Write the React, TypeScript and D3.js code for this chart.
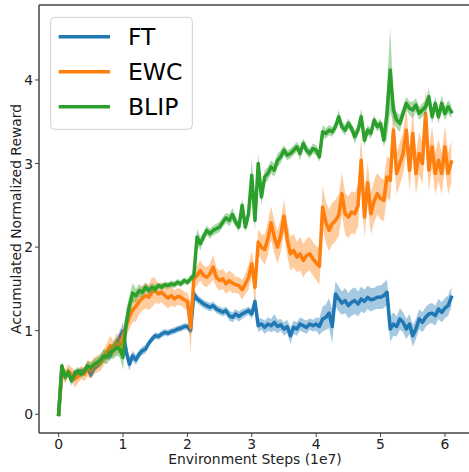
import React from 'react';
import * as d3 from 'd3';

// environment steps (1e7), sampled every 0.05
const steps = [
  0, 0.05, 0.1, 0.15, 0.2, 0.25, 0.3, 0.35, 0.4, 0.45,
  0.5, 0.55, 0.6, 0.65, 0.7, 0.75, 0.8, 0.85, 0.9, 0.95,
  1, 1.05, 1.1, 1.15, 1.2, 1.25, 1.3, 1.35, 1.4, 1.45,
  1.5, 1.55, 1.6, 1.65, 1.7, 1.75, 1.8, 1.85, 1.9, 1.95,
  2, 2.05, 2.1, 2.15, 2.2, 2.25, 2.3, 2.35, 2.4, 2.45,
  2.5, 2.55, 2.6, 2.65, 2.7, 2.75, 2.8, 2.85, 2.9, 2.95,
  3, 3.05, 3.1, 3.15, 3.2, 3.25, 3.3, 3.35, 3.4, 3.45,
  3.5, 3.55, 3.6, 3.65, 3.7, 3.75, 3.8, 3.85, 3.9, 3.95,
  4, 4.05, 4.1, 4.15, 4.2, 4.25, 4.3, 4.35, 4.4, 4.45,
  4.5, 4.55, 4.6, 4.65, 4.7, 4.75, 4.8, 4.85, 4.9, 4.95,
  5, 5.05, 5.1, 5.15, 5.2, 5.25, 5.3, 5.35, 5.4, 5.45,
  5.5, 5.55, 5.6, 5.65, 5.7, 5.75, 5.8, 5.85, 5.9, 5.95,
  6, 6.05, 6.1,
];

const ftMean = [
  0, 0.55, 0.45, 0.5, 0.42, 0.5, 0.48, 0.52, 0.5, 0.55,
  0.47, 0.55, 0.58, 0.62, 0.68, 0.72, 0.7, 0.8, 0.86, 0.92,
  1.0, 0.75, 0.6, 0.7, 0.65, 0.72, 0.76, 0.78, 0.85, 0.9,
  0.94, 0.93, 0.96, 0.98, 0.97, 0.99, 1.0, 1.02, 1.03, 1.05,
  1.05, 1.0, 1.44, 1.38, 1.35, 1.32, 1.3, 1.28, 1.3, 1.26,
  1.24, 1.22, 1.24, 1.18, 1.16, 1.2, 1.17, 1.2, 1.22, 1.24,
  1.2, 1.35, 1.06, 1.08, 1.04, 1.08, 1.06, 1.1, 1.05, 1.07,
  1.02, 1.05, 0.94, 1.04, 1.02, 1.08, 1.06, 1.04, 1.08, 1.06,
  1.08, 1.05, 1.14, 1.16, 1.21, 1.05, 1.44, 1.38, 1.33, 1.36,
  1.3, 1.34, 1.36, 1.32, 1.38, 1.35, 1.4, 1.37, 1.38, 1.4,
  1.4, 1.42, 1.46, 1.02, 1.08, 1.05, 1.14, 1.1, 1.02, 1.08,
  0.94, 1.02, 1.14, 1.1, 1.16, 1.2, 1.21, 1.18, 1.26, 1.22,
  1.27, 1.3, 1.4,
];
const ftSpread = [
  0, 0.04, 0.05, 0.04, 0.04, 0.04, 0.04, 0.04, 0.04, 0.05,
  0.05, 0.05, 0.04, 0.05, 0.05, 0.05, 0.06, 0.06, 0.06, 0.08,
  0.1, 0.1, 0.08, 0.06, 0.06, 0.05, 0.05, 0.05, 0.04, 0.04,
  0.04, 0.04, 0.04, 0.04, 0.04, 0.04, 0.04, 0.04, 0.04, 0.04,
  0.04, 0.06, 0.06, 0.05, 0.05, 0.05, 0.05, 0.05, 0.05, 0.05,
  0.05, 0.05, 0.05, 0.06, 0.06, 0.06, 0.06, 0.06, 0.05, 0.05,
  0.06, 0.08, 0.08, 0.07, 0.08, 0.08, 0.08, 0.1, 0.08, 0.07,
  0.08, 0.08, 0.1, 0.08, 0.08, 0.08, 0.08, 0.08, 0.07, 0.07,
  0.08, 0.1, 0.15, 0.15, 0.18, 0.2, 0.15, 0.15, 0.14, 0.15,
  0.15, 0.16, 0.16, 0.15, 0.15, 0.14, 0.14, 0.14, 0.13, 0.14,
  0.14, 0.15, 0.15, 0.15, 0.14, 0.12, 0.13, 0.12, 0.12, 0.12,
  0.13, 0.12, 0.12, 0.12, 0.12, 0.12, 0.12, 0.12, 0.12, 0.12,
  0.12, 0.12, 0.12,
];

const ewcMean = [
  0, 0.5, 0.45, 0.52, 0.48, 0.42, 0.45, 0.5, 0.48, 0.55,
  0.53, 0.58, 0.6, 0.62, 0.68, 0.75, 0.82, 0.78, 0.85, 0.82,
  0.92, 1.05, 1.17, 1.25, 1.29, 1.35, 1.39, 1.42, 1.4, 1.46,
  1.48, 1.44, 1.46, 1.42, 1.39, 1.42, 1.38, 1.41, 1.4, 1.37,
  1.35, 1.04, 1.62, 1.66, 1.72, 1.66, 1.64, 1.68, 1.76, 1.64,
  1.6, 1.62, 1.56, 1.6, 1.57, 1.55, 1.54, 1.49, 1.56, 1.64,
  1.8, 1.52, 2.06, 2.0, 1.97, 2.1, 2.29, 2.12, 2.0, 2.14,
  2.37, 2.1, 1.92, 1.96, 1.88, 1.92, 1.84, 1.9, 1.92, 1.86,
  1.81, 1.77, 2.48, 2.3, 2.2, 2.28, 2.32, 2.38, 2.64, 2.4,
  2.36, 2.42, 2.4, 2.5, 3.04, 2.36, 2.77, 2.4, 2.55, 2.64,
  2.58, 2.56, 2.84, 2.8, 3.4, 2.88, 3.0, 3.12, 3.4, 2.92,
  3.36, 2.88, 3.12, 3.0, 3.6, 2.92, 3.2, 2.88, 3.04, 2.88,
  3.2, 2.88, 3.02,
];
const ewcSpread = [
  0, 0.06, 0.08, 0.08, 0.08, 0.1, 0.08, 0.08, 0.08, 0.1,
  0.1, 0.1, 0.1, 0.1, 0.1, 0.1, 0.12, 0.1, 0.12, 0.1,
  0.12, 0.12, 0.15, 0.15, 0.18, 0.15, 0.15, 0.15, 0.15, 0.18,
  0.15, 0.12, 0.12, 0.12, 0.12, 0.12, 0.1, 0.1, 0.1, 0.1,
  0.1, 0.3, 0.12, 0.12, 0.12, 0.12, 0.12, 0.12, 0.15, 0.12,
  0.12, 0.12, 0.12, 0.12, 0.12, 0.1, 0.1, 0.12, 0.12, 0.15,
  0.15, 0.2, 0.15, 0.15, 0.18, 0.2, 0.2, 0.2, 0.2, 0.2,
  0.2, 0.2, 0.2, 0.2, 0.18, 0.2, 0.2, 0.2, 0.2, 0.2,
  0.2, 0.22, 0.25, 0.25, 0.25, 0.25, 0.25, 0.25, 0.25, 0.25,
  0.25, 0.25, 0.25, 0.25, 0.3, 0.25, 0.25, 0.25, 0.25, 0.25,
  0.25, 0.25, 0.25, 0.25, 0.3, 0.25, 0.25, 0.25, 0.28, 0.25,
  0.28, 0.25, 0.25, 0.25, 0.3, 0.25, 0.25, 0.25, 0.25, 0.25,
  0.25, 0.25, 0.25,
];

const blipMean = [
  0, 0.58, 0.45, 0.5, 0.4, 0.48, 0.52, 0.48, 0.52, 0.58,
  0.56, 0.6, 0.62, 0.65, 0.7, 0.68, 0.74, 0.76, 0.8, 0.78,
  0.68, 1.1, 1.3, 1.45, 1.42, 1.48, 1.46, 1.52, 1.48, 1.52,
  1.5, 1.54, 1.52, 1.55, 1.54, 1.56, 1.55, 1.58, 1.56, 1.6,
  1.58, 1.62, 1.66, 2.12, 2.04, 2.12, 2.2, 2.16, 2.2, 2.22,
  2.24, 2.3, 2.35, 2.32, 2.39, 2.3, 2.24, 2.5, 2.24, 2.4,
  2.86, 2.32, 3.0, 2.6, 2.84, 2.88, 2.96, 2.92, 3.04, 3.08,
  3.16, 3.1, 3.12, 3.16, 3.2, 3.12, 3.24, 3.16, 3.12, 3.18,
  3.16, 3.08, 3.38, 3.36, 3.4, 3.38, 3.44, 3.56, 3.44, 3.4,
  3.48, 3.42, 3.32, 3.4, 3.56, 3.28, 3.4, 3.36, 3.52, 3.44,
  3.48, 3.28, 3.6, 4.12, 3.64, 3.52, 3.48, 3.6, 3.72, 3.66,
  3.64, 3.7, 3.6, 3.64, 3.68, 3.8, 3.56, 3.72, 3.56, 3.72,
  3.6, 3.68, 3.62,
];
const blipSpread = [
  0, 0.05, 0.06, 0.05, 0.06, 0.05, 0.05, 0.05, 0.05, 0.06,
  0.06, 0.06, 0.06, 0.07, 0.08, 0.08, 0.08, 0.1, 0.1, 0.1,
  0.15, 0.15, 0.12, 0.12, 0.08, 0.08, 0.06, 0.06, 0.05, 0.05,
  0.05, 0.04, 0.04, 0.04, 0.04, 0.04, 0.04, 0.04, 0.04, 0.04,
  0.04, 0.05, 0.05, 0.1, 0.08, 0.06, 0.06, 0.06, 0.06, 0.06,
  0.06, 0.06, 0.06, 0.07, 0.08, 0.06, 0.06, 0.08, 0.06, 0.08,
  0.2, 0.12, 0.12, 0.1, 0.08, 0.08, 0.08, 0.08, 0.08, 0.08,
  0.06, 0.06, 0.06, 0.06, 0.06, 0.08, 0.06, 0.06, 0.06, 0.06,
  0.06, 0.06, 0.08, 0.06, 0.06, 0.06, 0.06, 0.08, 0.06, 0.06,
  0.06, 0.06, 0.08, 0.06, 0.1, 0.08, 0.06, 0.06, 0.06, 0.06,
  0.06, 0.08, 0.3, 0.5, 0.15, 0.1, 0.1, 0.08, 0.08, 0.08,
  0.1, 0.08, 0.08, 0.08, 0.08, 0.1, 0.08, 0.08, 0.08, 0.1,
  0.08, 0.08, 0.08,
];

const xTicks = [0, 1, 2, 3, 4, 5, 6];
const yTicks = [0, 1, 2, 3, 4];

const series = [
  { name: 'FT', color: '#1f77b4', mean: ftMean, spread: ftSpread },
  { name: 'EWC', color: '#ff7f0e', mean: ewcMean, spread: ewcSpread },
  { name: 'BLIP', color: '#2ca02c', mean: blipMean, spread: blipSpread },
];

const width = 469;
const height = 472;
const plot = { left: 39, right: 471, top: 5, bottom: 433 };
const font = 'DejaVu Sans, sans-serif';

export default function App() {
  const x = d3.scaleLinear().domain([-0.305, 6.405]).range([plot.left, plot.right]);
  const y = d3.scaleLinear().domain([-0.224, 4.897]).range([plot.bottom, plot.top]);

  const line = d3.line<number>()
    .x((d, i) => x(steps[i]))
    .y(d => y(d));

  return (
    <svg width={width} height={height} style={{ position: 'absolute', left: 0, top: 0, background: '#fff' }}>
      <defs>
        <clipPath id="plot-clip">
          <rect x={plot.left} y={plot.top} width={plot.right - plot.left} height={plot.bottom - plot.top} />
        </clipPath>
      </defs>

      <g clipPath="url(#plot-clip)">
        {series.map(s => {
          const area = d3.area<number>()
            .x((d, i) => x(steps[i]))
            .y0((d, i) => y(d - s.spread[i]))
            .y1((d, i) => y(d + s.spread[i]));
          return (
            <g key={s.name}>
              <path d={area(s.mean) || ''} fill={s.color} fillOpacity={0.4} stroke="none" />
              <path d={line(s.mean) || ''} fill="none" stroke={s.color} strokeWidth={3.5}
                strokeLinejoin="round" strokeLinecap="square" />
            </g>
          );
        })}
      </g>

      {/* spines */}
      <g stroke="#444" strokeWidth={1.5} fill="none">
        <line x1={plot.left} x2={plot.left} y1={plot.top} y2={plot.bottom} />
        <line x1={plot.left} x2={plot.right} y1={plot.bottom} y2={plot.bottom} />
        <line x1={plot.left} x2={plot.right} y1={plot.top} y2={plot.top} />
        <line x1={plot.right} x2={plot.right} y1={plot.top} y2={plot.bottom} />
      </g>

      {/* x axis */}
      {xTicks.map(t => (
        <g key={'x' + t} transform={`translate(${x(t)},${plot.bottom})`}>
          <line y1={0} y2={4} stroke="#444" strokeWidth={1} />
          <text y={16} textAnchor="middle" fontFamily={font} fontSize={13.9} fill="#222">{t}</text>
        </g>
      ))}
      <text x={255} y={464} textAnchor="middle" fontFamily={font} fontSize={13.9} fill="#222">
        Environment Steps (1e7)
      </text>

      {/* y axis */}
      {yTicks.map(t => (
        <g key={'y' + t} transform={`translate(${plot.left},${y(t)})`}>
          <line x1={0} x2={-4} stroke="#444" strokeWidth={1} />
          <text x={-6} dy="0.36em" textAnchor="end" fontFamily={font} fontSize={13.9} fill="#222">{t}</text>
        </g>
      ))}
      <text transform={`translate(21,${(plot.top + plot.bottom) / 2}) rotate(-90)`} textAnchor="middle"
        fontFamily={font} fontSize={13.9} fill="#222">
        Accumulated Normalized Reward
      </text>

      {/* legend */}
      <g>
        <rect x={50.7} y={17.3} width={141.6} height={112} rx={4} ry={4}
          fill="#fff" fillOpacity={0.8} stroke="#d0d0d0" strokeWidth={1} />
        {series.map((s, i) => {
          const ly = 36.7 + i * 35;
          return (
            <g key={'leg' + s.name}>
              <line x1={58.7} x2={110} y1={ly} y2={ly} stroke={s.color} strokeWidth={3.5} />
              <text x={128} y={ly} dy="0.36em" fontFamily={font} fontSize={23.5} fill="#000">{s.name}</text>
            </g>
          );
        })}
      </g>
    </svg>
  );
}
